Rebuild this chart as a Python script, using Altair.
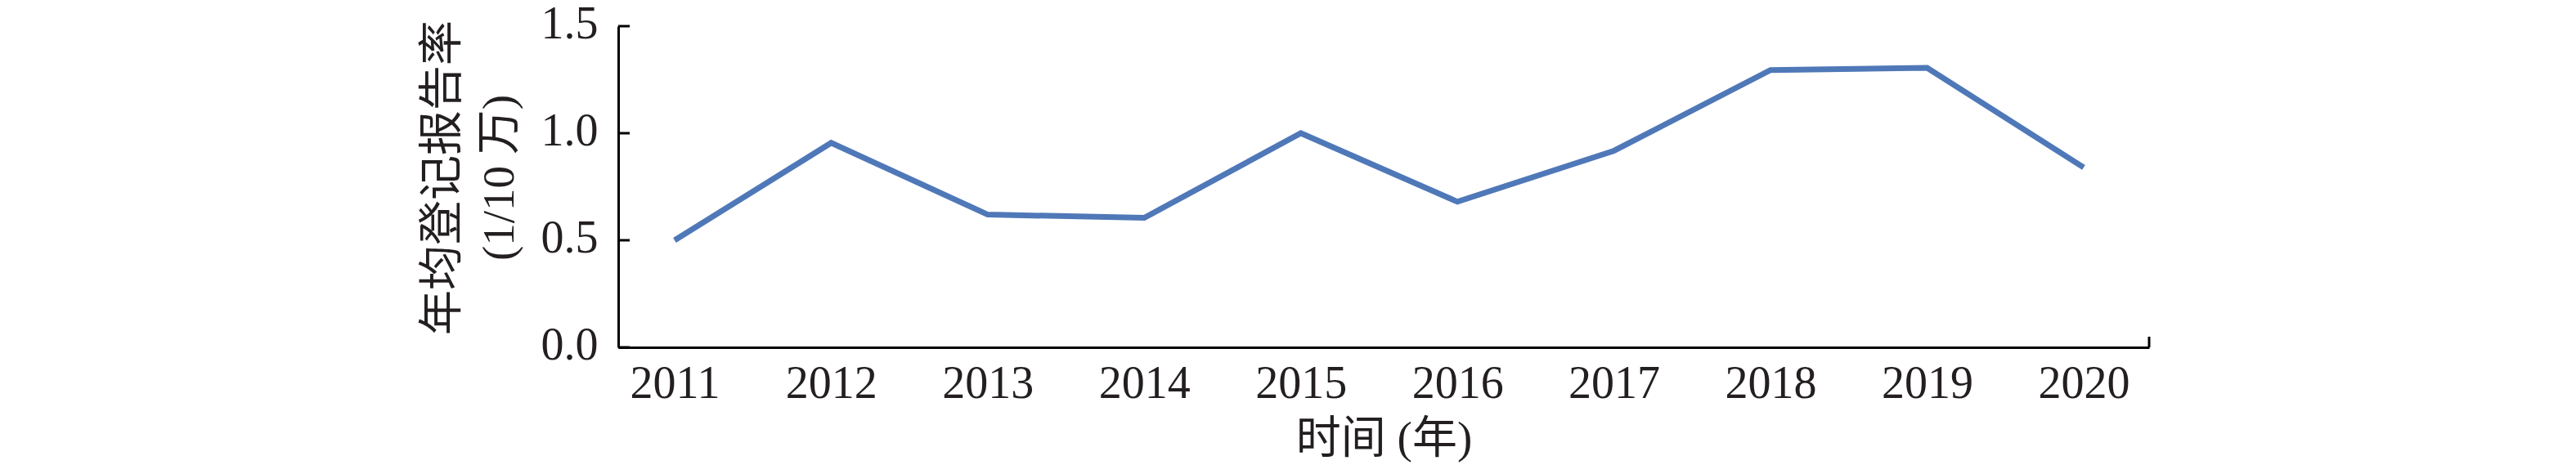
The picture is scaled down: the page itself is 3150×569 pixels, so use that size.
import altair as alt
import pandas as pd

years = [2011, 2012, 2013, 2014, 2015, 2016, 2017, 2018, 2019, 2020]
rates = [0.50, 0.955, 0.62, 0.605, 1.00, 0.68, 0.918, 1.295, 1.305, 0.84]
y_ticks = [0.0, 0.5, 1.0, 1.5]
x_min, x_max = 2010.64, 2020.418

W, H = 1872, 393
SERIF = "Liberation Serif, Times New Roman, Noto Sans CJK SC"
TXT = "#231F20"

df = pd.DataFrame({"year": years, "rate": rates})
tick_df = pd.DataFrame({"t": y_ticks})

xscale = alt.Scale(domain=[x_min, x_max], nice=False, zero=False)
yscale = alt.Scale(domain=[0, 1.5], nice=False)

line = alt.Chart(df).mark_line(color="#4F78B8", strokeWidth=7).encode(
    x=alt.X("year:Q", scale=xscale,
            axis=alt.Axis(values=years, format="d", title="时间 (年)",
                          ticks=False, grid=False, labelPadding=17,
                          labelFontSize=56, labelFont=SERIF, labelColor=TXT,
                          titleFontSize=55, titleFont=SERIF, titleColor=TXT,
                          titleFontWeight="normal", titleBaseline="middle",
                          titleY=111, domainColor="#000000", domainWidth=3,
                          labelFlush=False)),
    y=alt.Y("rate:Q", scale=yscale,
            axis=alt.Axis(values=y_ticks, format=".1f",
                          title=["年均登记报告率", "(1/10 万)"],
                          ticks=False, grid=False, labelPadding=25,
                          labelOffset=-3,
                          labelFontSize=56, labelFont=SERIF, labelColor=TXT,
                          titleFontSize=55, titleFont=SERIF, titleColor=TXT,
                          titleFontWeight="normal", titleAngle=270,
                          titleAlign="center", titleBaseline="middle",
                          titleLineHeight=70, titleX=-216, titleY=185,
                          domainColor="#000000", domainWidth=3,
                          labelFlush=False)),
)

yticks = alt.Chart(tick_df).mark_rule(color="#000000", strokeWidth=3).encode(
    y=alt.Y("t:Q", scale=yscale),
    x=alt.value(0),
    x2=alt.value(14),
)

end_tick = alt.Chart(pd.DataFrame({"e": [x_max]})).mark_rule(
    color="#000000", strokeWidth=3).encode(
    x=alt.X("e:Q", scale=xscale),
    y=alt.value(H),
    y2=alt.value(H - 13),
)

chart = alt.layer(line, yticks, end_tick).properties(
    width=W, height=H,
    autosize=alt.AutoSizeParams(type="none"),
    padding={"left": 748, "top": 24, "right": 500, "bottom": 144},
).configure(background="white").configure_view(strokeWidth=0, stroke=None)

chart.save("out.html", embed_options={"renderer": "svg", "actions": False})
